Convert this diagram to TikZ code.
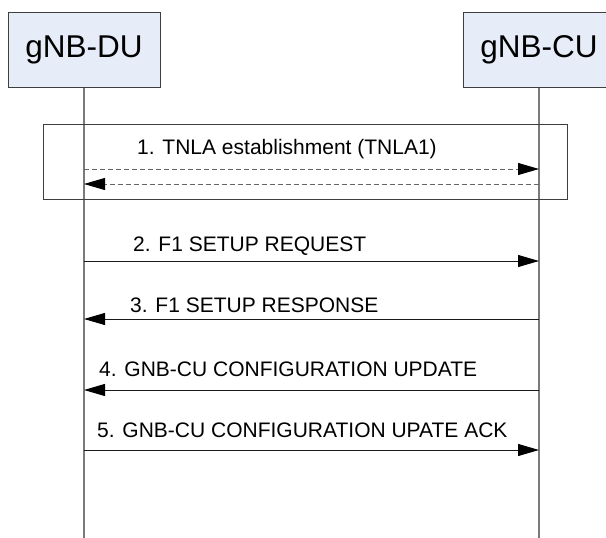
\documentclass[tikz,border=0pt]{standalone}
\usepackage{fontspec}
\setmainfont{Liberation Sans}
\usetikzlibrary{arrows.meta}
\definecolor{entfill}{HTML}{E6ECF8}
\definecolor{entdraw}{HTML}{3F3F3F}
\definecolor{lifegray}{HTML}{7A7A7A}

\begin{document}
\begin{tikzpicture}[x=1pt,y=-1pt,
  entity/.style={draw=entdraw,fill=entfill,line width=1pt,minimum width=152pt,minimum height=75pt,inner sep=0pt,font=\fontsize{31.5}{36}\selectfont},
  life/.style={draw=lifegray,line width=1.5pt},
  msg/.style={draw=black!90,line width=0.9pt,-{Triangle[length=21pt,width=12pt,color=black]}},
  tnla/.style={msg,draw=black!60,dash pattern=on 5pt off 3pt},
  lbl/.style={anchor=base west,font=\fontsize{21}{24}\selectfont,inner sep=0pt}]
\useasboundingbox (0,0) rectangle (606,538);
\clip (0,0) rectangle (606,538);
% entities and lifelines
\node[entity] (du) at (84,50) {gNB-DU};
\node[entity] (cu) at (539,50) {gNB-CU};
\coordinate (bottom) at (0,538);
\draw[life] (du.south) -- (du.south |- bottom);
\draw[life] (cu.south) -- (cu.south |- bottom);
% TNLA frame
\draw[draw=entdraw,line width=1pt] (43.5,124) rectangle (567.5,199.5);
\coordinate (m1a) at (0,169);
\coordinate (m1b) at (0,184);
\node[lbl] (t1) at (137,154) {1. TNLA establishment (TNLA1)};
\draw[tnla] (du.south |- m1a) -- (cu.south |- m1a);
\draw[tnla] (cu.south |- m1b) -- (du.south |- m1b);
% F1 setup
\coordinate (m2) at (0,261);
\coordinate (m3) at (0,319);
\node[lbl] (t2) at (133,251) {2. F1 SETUP REQUEST};
\draw[msg] (du.south |- m2) -- (cu.south |- m2);
\node[lbl] (t3) at (130,312) {3. F1 SETUP RESPONSE};
\draw[msg] (cu.south |- m3) -- (du.south |- m3);
% configuration update
\coordinate (m4) at (0,390);
\coordinate (m5) at (0,450);
\node[lbl] (t4) at (99,376) {4. GNB-CU CONFIGURATION UPDATE};
\draw[msg] (cu.south |- m4) -- (du.south |- m4);
\node[lbl] (t5) at (97,437) {5. GNB-CU CONFIGURATION UPATE ACK};
\draw[msg] (du.south |- m5) -- (cu.south |- m5);
\end{tikzpicture}
\end{document}
